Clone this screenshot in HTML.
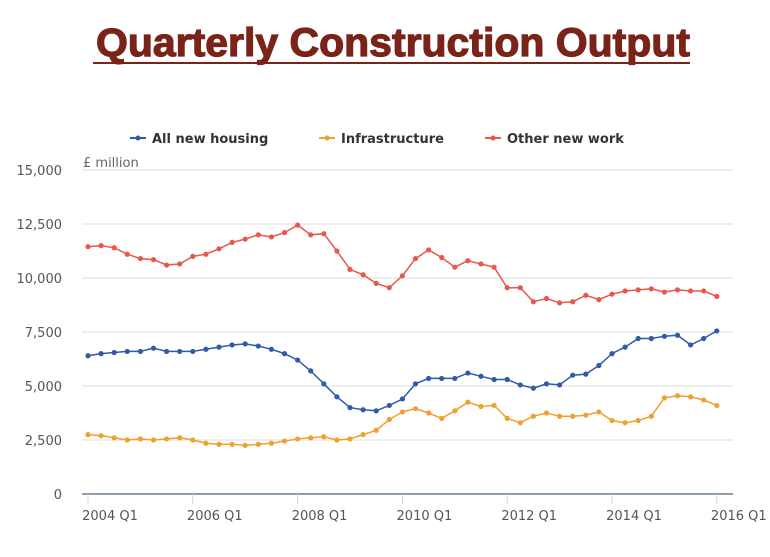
<!DOCTYPE html>
<html><head><meta charset="utf-8"><style>
body{margin:0;background:#fff;width:770px;height:552px;overflow:hidden}
</style></head><body>
<svg id="s" width="770" height="552" xmlns="http://www.w3.org/2000/svg" font-family="'DejaVu Sans', 'Liberation Sans', sans-serif">
<text x="96" y="56" textLength="594" lengthAdjust="spacingAndGlyphs" font-family="'Liberation Sans',sans-serif" font-weight="bold" font-size="40" fill="#7a2318" stroke="#7a2318" stroke-width="1.2">Quarterly Construction Output</text>
<rect x="93" y="62" width="597" height="2" fill="#7a2318"/>
<g font-size="13" font-weight="bold" fill="#333">
<line x1="130" y1="138" x2="146" y2="138" stroke="#2f5ba8" stroke-width="2"/><circle cx="138" cy="138" r="2.5" fill="#2f5ba8"/>
<text x="152" y="143">All new housing</text>
<line x1="319" y1="138" x2="335" y2="138" stroke="#f0a030" stroke-width="2"/><circle cx="327" cy="138" r="2.5" fill="#f0a030"/>
<text x="341" y="143">Infrastructure</text>
<line x1="485" y1="138" x2="501" y2="138" stroke="#e8584a" stroke-width="2"/><circle cx="493" cy="138" r="2.5" fill="#e8584a"/>
<text x="507" y="143">Other new work</text>
</g>
<text x="83" y="167" font-size="13" fill="#666">£ million</text>
<g id="grid"></g>
<g id="series"></g>
</svg>
<script>
var s=document.getElementById('grid'),ns='http://www.w3.org/2000/svg';
function el(t,a,p,txt){var e=document.createElementNS(ns,t);for(var k in a)e.setAttribute(k,a[k]);if(txt)e.textContent=txt;(p||s).appendChild(e);return e;}
function Y(v){return 494-v*0.0216;}
function X(i){return 88+i*13.1;}
var labs=['0','2,500','5,000','7,500','10,000','12,500','15,000'];
for(var i=0;i<7;i++){var y=Y(i*2500);
 el('line',{x1:82,x2:733,y1:y,y2:y,stroke:i==0?'#6b7d8e':'#dcdcdc','stroke-width':i==0?1.5:1});
 el('text',{x:62,y:y+5,'text-anchor':'end','font-size':13,fill:'#555'},null,labs[i]);}
for(var j=0;j<7;j++){var x=X(j*8);
 el('line',{x1:x,x2:x,y1:494,y2:504,stroke:'#ccd6eb'});
 el('text',{x:x+22,y:520,'text-anchor':'middle','font-size':13,fill:'#555'},null,(2004+2*j)+' Q1');}
var D={
'#e8584a':[11450,11500,11400,11100,10900,10850,10600,10650,11000,11100,11350,11650,11800,12000,11900,12100,12450,12000,12050,11250,10400,10150,9750,9550,10100,10900,11300,10950,10500,10800,10650,10500,9550,9550,8900,9050,8850,8900,9200,9000,9250,9400,9450,9500,9350,9450,9400,9400,9150],
'#2f5ba8':[6400,6500,6550,6600,6600,6750,6600,6600,6600,6700,6800,6900,6950,6850,6700,6500,6200,5700,5100,4500,4000,3900,3850,4100,4400,5100,5350,5350,5350,5600,5450,5300,5300,5050,4900,5100,5050,5500,5550,5950,6500,6800,7200,7200,7300,7350,6900,7200,7550],
'#f0a030':[2750,2700,2600,2500,2550,2500,2550,2600,2500,2350,2300,2300,2250,2300,2350,2450,2550,2600,2650,2500,2550,2750,2950,3450,3800,3950,3750,3500,3850,4250,4050,4100,3500,3300,3600,3750,3600,3600,3650,3800,3400,3300,3400,3600,4450,4550,4500,4350,4100]};
var g=document.getElementById('series');
for(var c in D){var p=D[c].map(function(v,i){return X(i).toFixed(1)+','+Y(v).toFixed(1)}).join(' ');
 el('polyline',{points:p,fill:'none',stroke:c,'stroke-width':1.5},g);
 D[c].forEach(function(v,i){el('circle',{cx:X(i),cy:Y(v),r:2.6,fill:c},g);});}
</script>
</body></html>
